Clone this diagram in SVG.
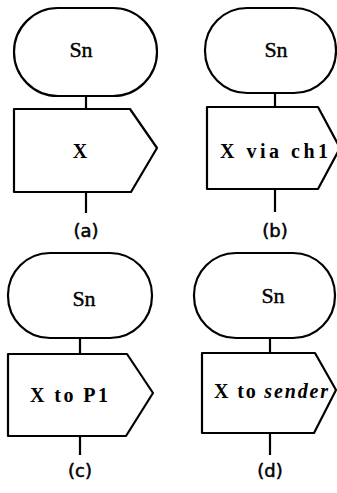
<svg xmlns="http://www.w3.org/2000/svg" width="337" height="493" viewBox="0 0 337 493">
  <style>
    .shape { fill: #fff; stroke: #000; stroke-width: 2.2; stroke-linejoin: round; }
    .wire { fill: none; stroke: #000; stroke-width: 2.2; }
    .state { font-family: "Liberation Serif", serif; font-size: 22px; text-anchor: middle; fill: #000; stroke: #000; stroke-width: 0.4; }
    .signal { font-family: "Liberation Serif", serif; font-size: 20px; font-weight: bold; text-anchor: middle; fill: #000; }
    .caption { font-family: "DejaVu Sans", sans-serif; font-size: 18px; text-anchor: middle; fill: #000; stroke: #000; stroke-width: 0.5; }
  </style>
  <rect width="337" height="493" fill="#fff"/>

  <!-- connectors -->
  <g id="connectors" class="wire">
    <line x1="86" y1="96" x2="86" y2="109"/>
    <line x1="86" y1="192" x2="86" y2="213"/>
    <line x1="275" y1="93" x2="275" y2="107"/>
    <line x1="275" y1="189" x2="275" y2="212"/>
    <line x1="80" y1="338" x2="80" y2="354"/>
    <line x1="80" y1="436" x2="80" y2="455"/>
    <line x1="270" y1="338" x2="270" y2="353"/>
    <line x1="270" y1="433" x2="270" y2="455"/>
  </g>

  <!-- (a) -->
  <g id="state-a">
    <rect class="shape" x="14" y="8" width="143" height="88" rx="44" ry="44"/>
    <text class="state" x="81" y="57">Sn</text>
  </g>
  <g id="output-a">
    <path class="shape" d="M14,109 H130 L157,148 L131,192 H14 Z"/>
    <text class="signal" x="80" y="158">X</text>
  </g>
  <text class="caption" x="86" y="237">(a)</text>

  <!-- (b) -->
  <g id="state-b">
    <rect class="shape" x="205" y="8" width="131" height="85" rx="42" ry="42"/>
    <text class="state" x="276" y="57">Sn</text>
  </g>
  <g id="output-b">
    <path class="shape" d="M207,107 H318 L340,148 L318,189 H207 Z"/>
    <text class="signal" x="274" y="158" textLength="108" lengthAdjust="spacing">X via ch1</text>
  </g>
  <text class="caption" x="275" y="237">(b)</text>

  <!-- (c) -->
  <g id="state-c">
    <rect class="shape" x="8" y="253" width="144" height="85" rx="42" ry="42"/>
    <text class="state" x="84" y="306">Sn</text>
  </g>
  <g id="output-c">
    <path class="shape" d="M8,354 H127 L153,393 L126,436 H8 Z"/>
    <text class="signal" x="69" y="402" textLength="78" lengthAdjust="spacing">X to P1</text>
  </g>
  <text class="caption" x="80" y="477">(c)</text>

  <!-- (d) -->
  <g id="state-d">
    <rect class="shape" x="194" y="253" width="141" height="85" rx="42" ry="42"/>
    <text class="state" x="273" y="303">Sn</text>
  </g>
  <g id="output-d">
    <path class="shape" d="M202,353 H315 L336,390 L314,433 H202 Z"/>
    <text class="signal" x="271" y="398" textLength="114" lengthAdjust="spacing">X to <tspan font-style="italic">sender</tspan></text>
  </g>
  <text class="caption" x="270" y="477">(d)</text>
</svg>
